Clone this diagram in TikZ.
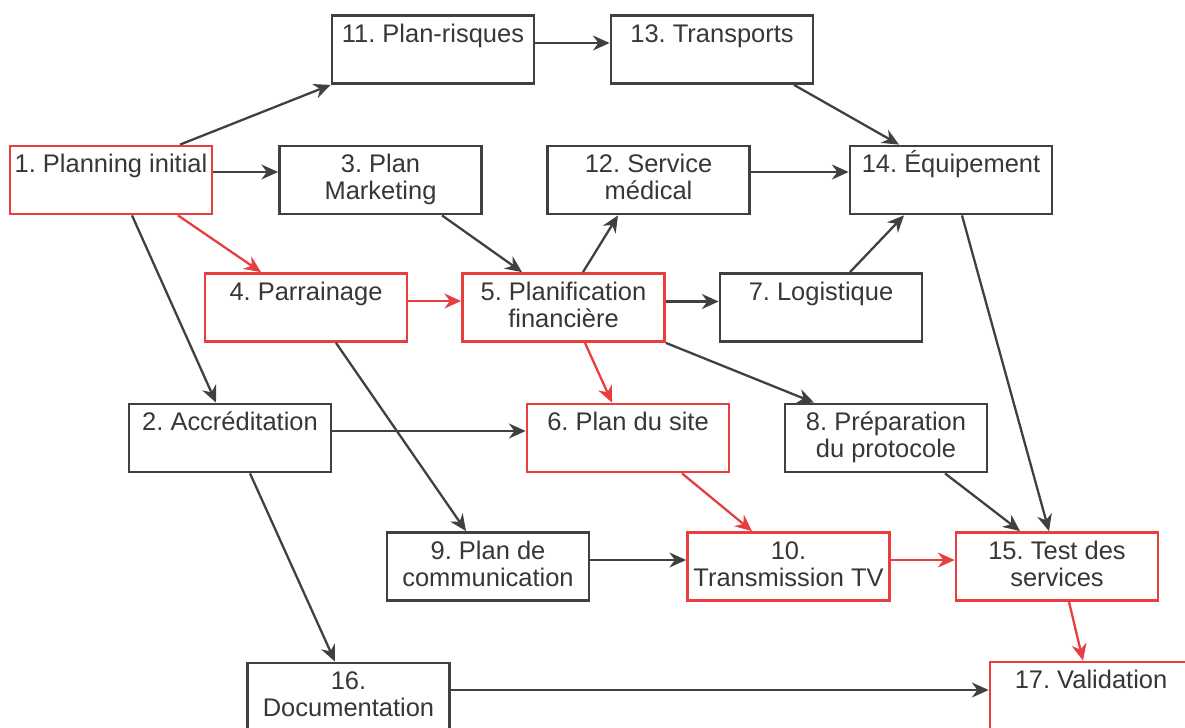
\documentclass[tikz,border=0pt]{standalone}
\usepackage{fontspec}
\setmainfont{Liberation Sans}
\usetikzlibrary{arrows.meta,calc,shadows}

\definecolor{boxgray}{RGB}{64,64,64}
\definecolor{critred}{RGB}{232,62,62}
\definecolor{txtgray}{RGB}{55,55,55}

\newcommand{\tasktext}[1]{\parbox[c][1.36cm][t]{4.04cm}{\frenchspacing\centering\rule{0pt}{15.3pt}#1}}

\tikzset{
  task/.style={draw=boxgray, line width=1.6pt, fill=white, inner sep=0pt,
    font=\fontsize{14.5pt}{15.3pt}\selectfont, text=txtgray,
    drop shadow={opacity=0.2, shadow xshift=0.8pt, shadow yshift=-0.8pt}},
  crit/.style={task, draw=critred},
  link/.style={-{Stealth[length=9.5pt,width=8.5pt]}, line width=1.3pt, color=boxgray},
  critlink/.style={link, color=critred},
}

\begin{document}
\begin{tikzpicture}[x=0.02cm, y=-0.02cm]

\useasboundingbox (0,0) rectangle (1185,727);
\clip (0,0) rectangle (1185,727);
\fill[white] (0,0) rectangle (1185,727);

\node[task] (n11) at (433,49.5) {\tasktext{11. Plan-risques}};
\node[task] (n13) at (712,49.5) {\tasktext{13. Transports}};

\node[crit] (n1) at (111,180) {\tasktext{1. Planning initial}};
\node[task] (n3) at (380.5,180) {\tasktext{3. Plan\\Marketing}};
\node[task] (n12) at (648.5,180) {\tasktext{12. Service\\médical}};
\node[task] (n14) at (951,180) {\tasktext{14. Équipement}};

\node[crit] (n4) at (306,307.5) {\tasktext{4. Parrainage}};
\node[crit] (n5) at (563.5,307.5) {\tasktext{5. Planification\\financière}};
\node[task] (n7) at (821,307.5) {\tasktext{7. Logistique}};

\node[task] (n2) at (230,438) {\tasktext{2. Accréditation}};
\node[crit] (n6) at (628,438) {\tasktext{6. Plan du site}};
\node[task] (n8) at (886,438) {\tasktext{8. Préparation\\du protocole}};

\node[task] (n9) at (488,566.5) {\tasktext{9. Plan de\\communication}};
\node[crit] (n10) at (788.5,566.5) {\tasktext{10.\\Transmission TV}};
\node[crit] (n15) at (1057,566.5) {\tasktext{15. Test des\\services}};

\node[task] (n16) at (348.5,697) {\tasktext{16.\\Documentation}};
\node[crit] (n17) at (1091,696) {\tasktext{17. Validation}};

% black links
\draw[link] ($(n1.north)+(69,0)$) -- (n11.south west);
\draw[link] ($(n11.east)+(0,-6.5)$) -- ($(n13.west)+(0,-6.5)$);
\draw[link] ($(n13.south)+(82,0)$) -- ($(n14.north)+(-52,0)$);
\draw[link] ($(n1.east)+(0,-8)$) -- ($(n3.west)+(0,-8)$);
\draw[link] ($(n12.east)+(0,-8)$) -- ($(n14.west)+(0,-8)$);
\draw[link] ($(n1.south)+(21,0)$) -- ($(n2.north)+(-14,0)$);
\draw[link] ($(n3.south)+(61.5,0)$) -- ($(n5.north)+(-41.5,0)$);
\draw[link] ($(n4.south)+(30,0)$) -- ($(n9.north)+(-22,0)$);
\draw[link] ($(n5.north)+(19.5,0)$) -- ($(n12.south)+(-30.5,0)$);
\draw[link] ($(n5.east)+(0,-6)$) -- ($(n7.west)+(0,-6)$);
\draw[link] (n5.south east) -- ($(n8.north)+(-72,0)$);
\draw[link] ($(n7.north)+(29,0)$) -- ($(n14.south)+(-47,0)$);
\draw[link] ($(n14.south)+(11,0)$) -- ($(n15.north)+(-8,0)$);
\draw[link] ($(n2.east)+(0,-7)$) -- ($(n6.west)+(0,-7)$);
\draw[link] ($(n2.south)+(20,0)$) -- ($(n16.north)+(-13.5,0)$);
\draw[link] ($(n8.south)+(59,0)$) -- ($(n15.north)+(-37,0)$);
\draw[link] ($(n9.east)+(0,-6.5)$) -- ($(n10.west)+(0,-6.5)$);
\draw[link] ($(n16.east)+(0,-7)$) -- ($(n17.west)+(0,-6)$);

% critical path
\draw[critlink] ($(n1.south)+(67,0)$) -- ($(n4.north)+(-45,0)$);
\draw[critlink] ($(n4.east)+(0,-6.5)$) -- ($(n5.west)+(0,-6.5)$);
\draw[critlink] ($(n5.south)+(21.5,0)$) -- ($(n6.north)+(-16,0)$);
\draw[critlink] ($(n6.south)+(54,0)$) -- ($(n10.north)+(-36.5,0)$);
\draw[critlink] ($(n10.east)+(0,-6.5)$) -- ($(n15.west)+(0,-6.5)$);
\draw[critlink] ($(n15.south)+(12,0)$) -- ($(n17.north)+(-8,0)$);

\end{tikzpicture}
\end{document}
